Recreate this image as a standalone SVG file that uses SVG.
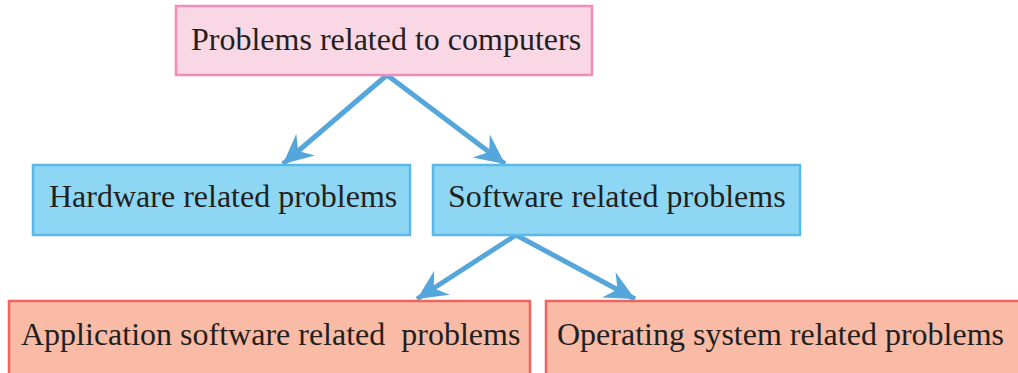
<svg xmlns="http://www.w3.org/2000/svg" width="1018" height="373" viewBox="0 0 1018 373">
<style>
.t{font-family:"Liberation Serif","Times New Roman",serif;font-size:32px;fill:#231f20;white-space:pre}
.pink{fill:#f9d7e5;stroke:#ef8fb8;stroke-width:2.5}
.blue{fill:#8dd7f5;stroke:#5ab9e8;stroke-width:2.5}
.orange{fill:#f9bba6;stroke:#ee6560;stroke-width:2.5}
.c{stroke:#55a6db;stroke-width:5;fill:none;marker-end:url(#ah)}
</style>
<defs>
<marker id="ah" markerUnits="userSpaceOnUse" markerWidth="32" markerHeight="32" viewBox="-27 -14 29 28" refX="0" refY="0" orient="auto">
<path d="M0,0 L-27,-13 L-18,0 L-27,13 Z" fill="#55a6db"/>
</marker>
</defs>
<rect width="1018" height="373" fill="#ffffff"/>
<g id="connectors">
<line class="c" x1="387" y1="75" x2="283" y2="164"/>
<line class="c" x1="387" y1="75" x2="505" y2="164"/>
<line class="c" x1="516" y1="235" x2="417" y2="299"/>
<line class="c" x1="516" y1="235" x2="635" y2="299"/>
</g>
<g id="n-computers">
<rect class="pink" x="176" y="6" width="416" height="69"/>
<text class="t" x="191" y="50">Problems related to computers</text>
</g>
<g id="n-hardware">
<rect class="blue" x="33" y="165" width="377" height="70"/>
<text class="t" x="49" y="207">Hardware related problems</text>
</g>
<g id="n-software">
<rect class="blue" x="433" y="165" width="367" height="70"/>
<text class="t" x="448" y="207">Software related problems</text>
</g>
<g id="n-application">
<rect class="orange" x="9" y="301" width="521" height="80"/>
<text class="t" x="21" y="345">Application software related  problems</text>
</g>
<g id="n-os">
<rect class="orange" x="546" y="301" width="480" height="80"/>
<text class="t" x="557" y="345">Operating system related problems</text>
</g>
</svg>
